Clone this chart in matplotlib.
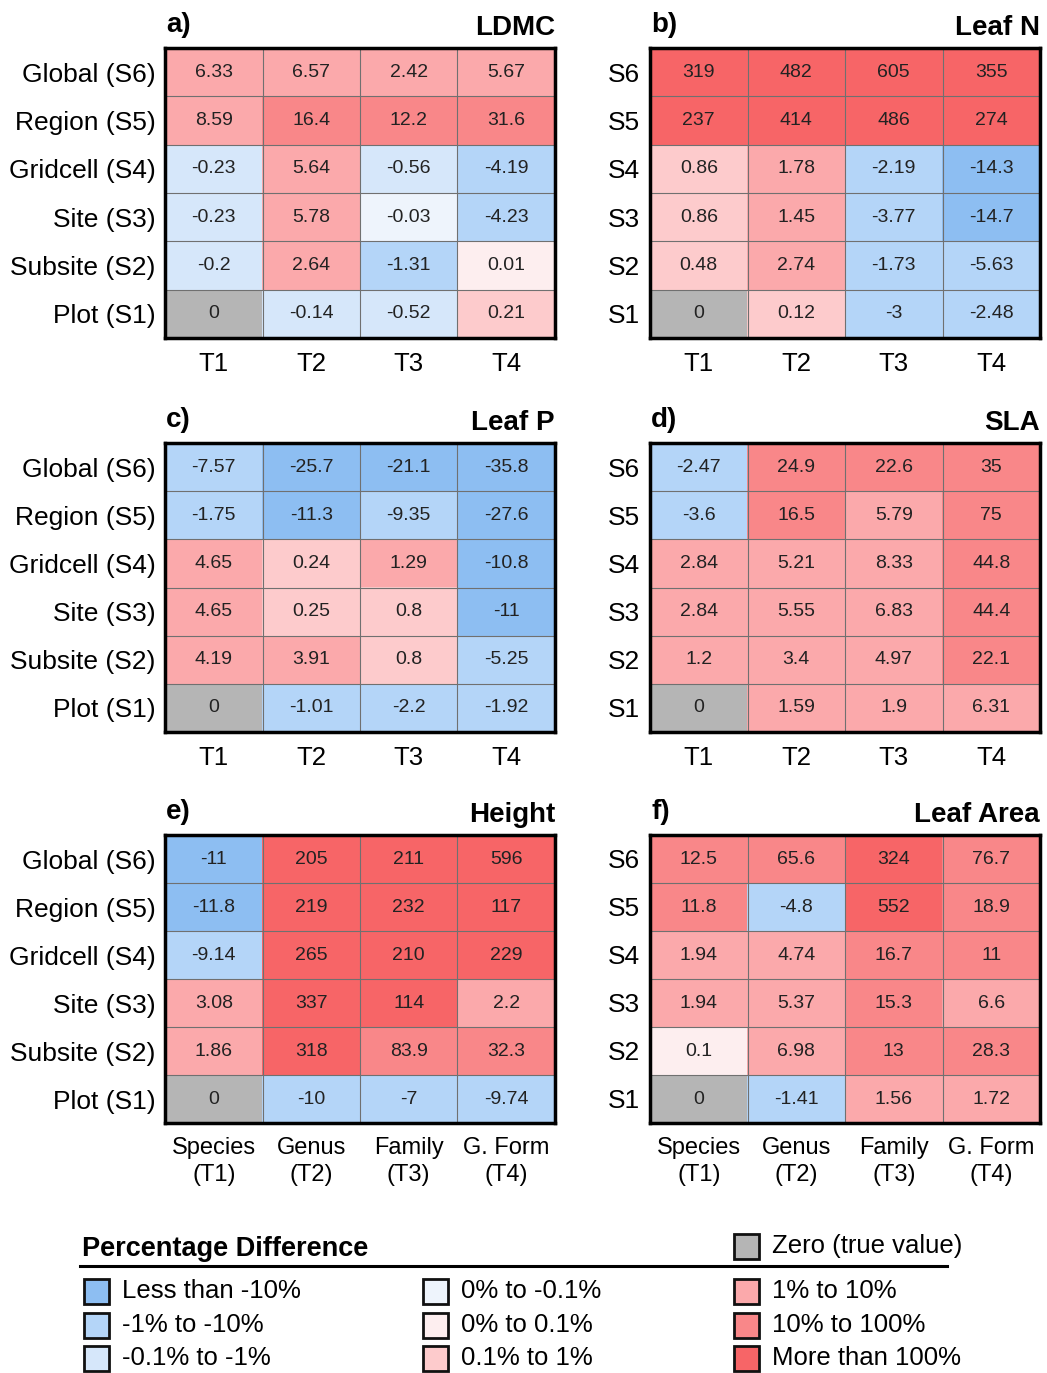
import matplotlib
matplotlib.use('Agg')
import matplotlib.pyplot as plt
from matplotlib.colors import ListedColormap
from matplotlib.patches import Rectangle
from matplotlib.lines import Line2D
import numpy as np

plt.rcParams['font.family'] = ['Liberation Sans', 'DejaVu Sans']

# ---------------- data ----------------
scales_long = ["Global (S6)", "Region (S5)", "Gridcell (S4)", "Site (S3)", "Subsite (S2)", "Plot (S1)"]
scales_short = ["S6", "S5", "S4", "S3", "S2", "S1"]
taxa_short = ["T1", "T2", "T3", "T4"]
taxa_long = ["Species\n(T1)", "Genus\n(T2)", "Family\n(T3)", "G. Form\n(T4)"]

ldmc = [[6.33, 6.57, 2.42, 5.67],
        [8.59, 16.4, 12.2, 31.6],
        [-0.23, 5.64, -0.56, -4.19],
        [-0.23, 5.78, -0.03, -4.23],
        [-0.2, 2.64, -1.31, 0.01],
        [0, -0.14, -0.52, 0.21]]
leaf_n = [[319, 482, 605, 355],
          [237, 414, 486, 274],
          [0.86, 1.78, -2.19, -14.3],
          [0.86, 1.45, -3.77, -14.7],
          [0.48, 2.74, -1.73, -5.63],
          [0, 0.12, -3, -2.48]]
leaf_p = [[-7.57, -25.7, -21.1, -35.8],
          [-1.75, -11.3, -9.35, -27.6],
          [4.65, 0.24, 1.29, -10.8],
          [4.65, 0.25, 0.8, -11],
          [4.19, 3.91, 0.8, -5.25],
          [0, -1.01, -2.2, -1.92]]
sla = [[-2.47, 24.9, 22.6, 35],
       [-3.6, 16.5, 5.79, 75],
       [2.84, 5.21, 8.33, 44.8],
       [2.84, 5.55, 6.83, 44.4],
       [1.2, 3.4, 4.97, 22.1],
       [0, 1.59, 1.9, 6.31]]
height = [[-11, 205, 211, 596],
          [-11.8, 219, 232, 117],
          [-9.14, 265, 210, 229],
          [3.08, 337, 114, 2.2],
          [1.86, 318, 83.9, 32.3],
          [0, -10, -7, -9.74]]
leaf_area = [[12.5, 65.6, 324, 76.7],
             [11.8, -4.8, 552, 18.9],
             [1.94, 4.74, 16.7, 11],
             [1.94, 5.37, 15.3, 6.6],
             [0.1, 6.98, 13, 28.3],
             [0, -1.41, 1.56, 1.72]]

legend_labels = ["Less than -10%", "-1% to -10%", "-0.1% to -1%",
                 "0% to -0.1%", "0% to 0.1%", "0.1% to 1%",
                 "1% to 10%", "10% to 100%", "More than 100%"]
zero_label = "Zero (true value)"

# ---------------- styling ----------------
colors = ["#8DBEF2", "#B4D5F8", "#D6E7FA", "#EEF4FC",
          "#B5B5B5",
          "#FDEEEF", "#FDCBCC", "#FBA9AB", "#F98789", "#F76567"]
cmap = ListedColormap(colors)
zero_color = colors[4]


def category(v):
    if v == 0:
        return 4
    if v < 0:
        if v < -10:
            return 0
        if v < -1:
            return 1
        if v < -0.1:
            return 2
        return 3
    if v <= 0.1:
        return 5
    if v <= 1:
        return 6
    if v <= 10:
        return 7
    if v <= 100:
        return 8
    return 9


W, H = 1047, 1373
fig = plt.figure(figsize=(W / 100, H / 100), dpi=100)


def fx(x):
    return x / W


def fy(y):
    return 1 - y / H


panels = [
    ("a)", "LDMC", ldmc, 165, 48, 338, scales_long, taxa_short),
    ("b)", "Leaf N", leaf_n, 650, 48, 338, scales_short, taxa_short),
    ("c)", "Leaf P", leaf_p, 165, 443, 732, scales_long, taxa_short),
    ("d)", "SLA", sla, 650, 443, 732, scales_short, taxa_short),
    ("e)", "Height", height, 165, 835, 1123, scales_long, taxa_long),
    ("f)", "Leaf Area", leaf_area, 650, 835, 1123, scales_short, taxa_long),
]

for lab, title, data, x0, ytop, ybot, rlabels, clabels in panels:
    arr = np.array(data, dtype=float)
    cats = np.vectorize(category)(arr)
    ax = fig.add_axes([fx(x0), fy(ybot), 390 / W, (ybot - ytop) / H])
    ax.imshow(cats, cmap=cmap, vmin=-0.5, vmax=9.5, aspect='auto',
              interpolation='nearest')
    nr, nc = arr.shape
    for i in range(nr):
        for j in range(nc):
            ax.text(j, i, '{:g}'.format(arr[i, j]), ha='center', va='center',
                    fontsize=14, color='#222222')
    ax.vlines(np.arange(nc - 1) + 0.5, -0.5, nr - 0.5, color='#707070', lw=0.8)
    ax.hlines(np.arange(nr - 1) + 0.5, -0.5, nc - 0.5, color='#707070', lw=0.8)
    ax.set_xlim(-0.5, nc - 0.5)
    ax.set_ylim(nr - 0.5, -0.5)
    for s in ax.spines.values():
        s.set_linewidth(2.5)
        s.set_color('black')
    ax.set_yticks(range(nr))
    ax.set_yticklabels(rlabels, fontsize=19)
    ax.set_xticks(range(nc))
    two_line = '\n' in clabels[0]
    ax.set_xticklabels(clabels, fontsize=17 if two_line else 18.5,
                       linespacing=1.3)
    ax.tick_params(axis='y', length=0, pad=7)
    ax.tick_params(axis='x', length=0, pad=10 if two_line else 10)
    fig.text(fx(x0 + 1), fy(ytop - 16), lab, fontsize=20, fontweight='bold',
             ha='left', va='baseline')
    fig.text(fx(x0 + 390), fy(ytop - 13), title, fontsize=20,
             fontweight='bold', ha='right', va='baseline')

# ---------------- legend ----------------
fig.text(fx(82), fy(1256), "Percentage Difference", fontsize=19.5,
         fontweight='bold', ha='left', va='baseline')
fig.add_artist(Line2D([fx(80), fx(947)], [fy(1266), fy(1266)], color='black',
                      lw=2.2, transform=fig.transFigure))

sw = 25


def swatch(x, yc, color, text):
    fig.add_artist(Rectangle((fx(x), fy(yc + sw / 2)), sw / W, sw / H,
                             facecolor=color, edgecolor='#111111', lw=2,
                             transform=fig.transFigure))
    fig.text(fx(x + 38), fy(yc), text, fontsize=18.5, ha='left', va='center')


swatch(734, 1246, zero_color, zero_label)
leg_colors = [colors[0], colors[1], colors[2], colors[3], colors[5], colors[6],
              colors[7], colors[8], colors[9]]
col_x = [84, 423, 734]
row_y = [1291, 1325, 1358]
for k, (c, t) in enumerate(zip(leg_colors, legend_labels)):
    swatch(col_x[k // 3], row_y[k % 3], c, t)

fig.savefig('out.png', dpi=100, facecolor='white')
